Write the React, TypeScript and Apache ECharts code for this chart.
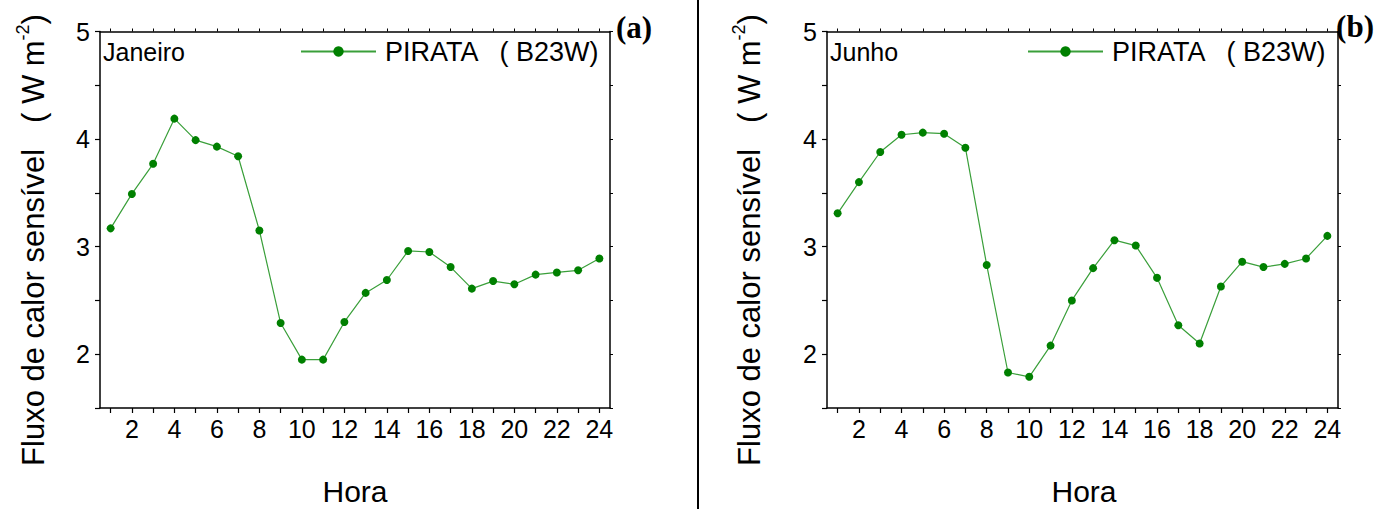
import React, { useEffect, useRef } from "react";
import * as echarts from "echarts";

const hours = ["1","2","3","4","5","6","7","8","9","10","11","12","13","14","15","16","17","18","19","20","21","22","23","24"];
const janeiro = [3.17, 3.49, 3.77, 4.19, 3.99, 3.93, 3.84, 3.15, 2.29, 1.95, 1.95, 2.30, 2.57, 2.69, 2.96, 2.95, 2.81, 2.61, 2.68, 2.65, 2.74, 2.76, 2.78, 2.89];
const junho = [3.31, 3.60, 3.88, 4.04, 4.06, 4.05, 3.92, 2.83, 1.83, 1.79, 2.08, 2.50, 2.80, 3.06, 3.01, 2.71, 2.27, 2.10, 2.63, 2.86, 2.81, 2.84, 2.89, 3.10];
const seriesName = "PIRATA   ( B23W)";
const panelTitles = ["Janeiro", "Junho"];
const panelLetters = ["(a)", "(b)"];
const xTitle = "Hora";

const FONT = "Liberation Sans, Arial, sans-serif";
const LINE_COLOR = "#3a9f3a";
const MARK_COLOR = "#008000";

export default function App() {
  const ref = useRef<HTMLDivElement>(null);
  useEffect(() => {
    document.body.style.margin = "0";
    const chart = echarts.init(ref.current!, null, { renderer: "svg" });
    const grids = [
      { left: 100, top: 31.5, width: 510, height: 376.5 },
      { left: 827, top: 31.5, width: 511, height: 376.5 },
    ];
    const axisLine = { show: true, onZero: false, lineStyle: { color: "#000", width: 1.5 } };
    const xAxes: any[] = [];
    const yAxes: any[] = [];
    grids.forEach((_, i) => {
      xAxes.push({
        type: "category", gridIndex: i, position: "bottom", data: hours, boundaryGap: true,
        axisLine,
        axisTick: { show: true, alignWithLabel: true, interval: 0, length: 5, lineStyle: { color: "#000", width: 1.2 } },
        axisLabel: { interval: (idx: number) => idx % 2 === 1, fontSize: 25, color: "#000", fontFamily: FONT, margin: 8 },
        splitLine: { show: false },
      });
      xAxes.push({
        type: "category", gridIndex: i, position: "top", data: hours, boundaryGap: true,
        axisLine,
        axisTick: { show: true, alignWithLabel: true, interval: 0, length: 3, lineStyle: { color: "#000", width: 1 } },
        axisLabel: { show: false },
        splitLine: { show: false },
      });
      yAxes.push({
        type: "value", gridIndex: i, position: "left", min: 1.5, max: 5, interval: 0.5,
        axisLine,
        axisTick: { show: true, length: 5, lineStyle: { color: "#000", width: 1.2 } },
        axisLabel: {
          fontSize: 25, color: "#000", fontFamily: FONT, margin: 10,
          formatter: (v: number) => (Math.abs(v - Math.round(v)) < 1e-6 && v >= 2 ? String(Math.round(v)) : ""),
        },
        splitLine: { show: false },
      });
      yAxes.push({
        type: "value", gridIndex: i, position: "right", min: 1.5, max: 5, interval: 0.5,
        axisLine,
        axisTick: { show: true, length: 3, lineStyle: { color: "#000", width: 1 } },
        axisLabel: { show: false },
        splitLine: { show: false },
      });
    });

    const makeSeries = (data: number[], xi: number, yi: number) => ({
      type: "line", name: seriesName, data, xAxisIndex: xi, yAxisIndex: yi,
      symbol: "circle", symbolSize: 8,
      lineStyle: { color: LINE_COLOR, width: 1.2 },
      itemStyle: { color: MARK_COLOR },
    });

    const legendBase = {
      data: [seriesName], itemWidth: 75, itemHeight: 13, padding: 0,
      textStyle: { fontSize: 27, color: "#000", fontFamily: FONT, padding: [0, 0, 0, 4] },
      selectedMode: false,
    };

    const yLabel = (cx: number) => ({
      type: "text", x: cx, y: 240, rotation: Math.PI / 2,
      style: {
        text: "{a|Fluxo de calor sensível   ( W m}{s|-2}{a|)}",
        align: "center", verticalAlign: "middle",
        rich: {
          a: { fontSize: 31, fontFamily: FONT, fill: "#000", lineHeight: 38 },
          s: { fontSize: 18, fontFamily: FONT, fill: "#000", verticalAlign: "top", lineHeight: 38 },
        },
      },
    });

    const letterStyle = { fontSize: 31, fontWeight: "bold", fontFamily: "Liberation Serif, Times New Roman, serif", fill: "#000", align: "center", verticalAlign: "middle" };

    chart.setOption({
      animation: false,
      grid: grids,
      xAxis: xAxes,
      yAxis: yAxes,
      legend: [
        { ...legendBase, left: 300, top: 38 },
        { ...legendBase, left: 1027, top: 38 },
      ],
      series: [makeSeries(janeiro, 0, 0), makeSeries(junho, 2, 2)],
      graphic: [
        { type: "line", shape: { x1: 698, y1: 0, x2: 698, y2: 509 }, style: { stroke: "#000", lineWidth: 2 } },
        { type: "text", x: 103, y: 52, style: { text: panelTitles[0], fontSize: 25, fontFamily: FONT, fill: "#000", verticalAlign: "middle" } },
        { type: "text", x: 830, y: 52, style: { text: panelTitles[1], fontSize: 25, fontFamily: FONT, fill: "#000", verticalAlign: "middle" } },
        { type: "text", x: 634, y: 27, style: { text: panelLetters[0], ...letterStyle } },
        { type: "text", x: 1355, y: 26, style: { text: panelLetters[1], ...letterStyle } },
        { type: "text", x: 355, y: 491, style: { text: xTitle, fontSize: 30, fontFamily: FONT, fill: "#000", align: "center", verticalAlign: "middle" } },
        { type: "text", x: 1084, y: 491, style: { text: xTitle, fontSize: 30, fontFamily: FONT, fill: "#000", align: "center", verticalAlign: "middle" } },
        yLabel(33),
        yLabel(749),
      ],
    });
    return () => chart.dispose();
  }, []);
  return <div ref={ref} style={{ width: 1389, height: 509, background: "#fff" }} />;
}
